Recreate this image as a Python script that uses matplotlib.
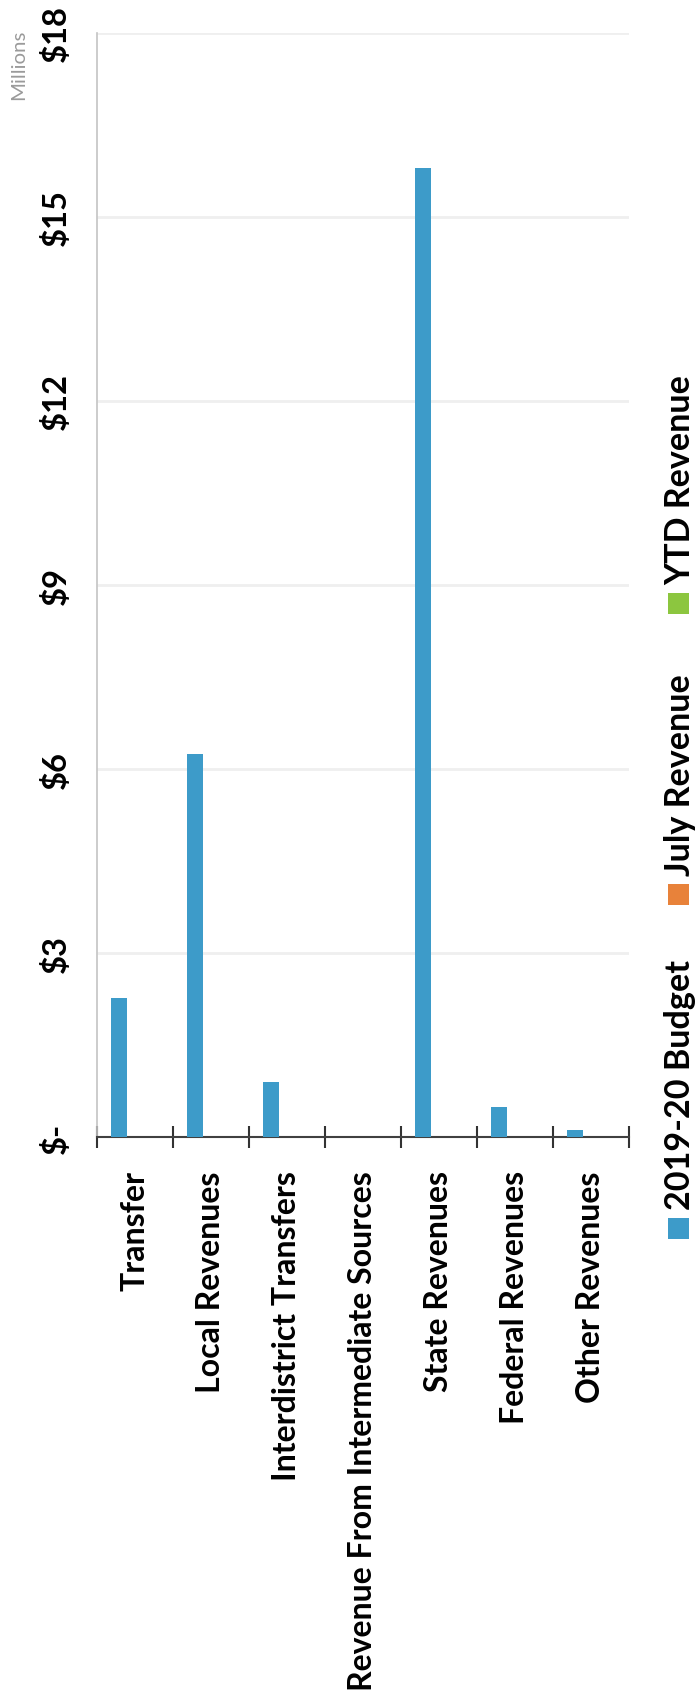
import numpy as np
import matplotlib
matplotlib.use("Agg")
import matplotlib.pyplot as plt
from matplotlib.patches import Rectangle

# revenue by source, in millions of dollars
categories = ['Transfer', 'Local Revenues', 'Interdistrict Transfers',
              'Revenue From Intermediate Sources', 'State Revenues',
              'Federal Revenues', 'Other Revenues']
budget = [2.27, 6.24, 0.90, 0.0, 15.8, 0.49, 0.11]
july = [0, 0, 0, 0, 0, 0, 0]
ytd = [0, 0, 0, 0, 0, 0, 0]
series_names = ['2019-20 Budget', 'July Revenue', 'YTD Revenue']
series_colors = ['#3d9bc9', '#e8823a', '#8cc63f']
yticks = [0, 3, 6, 9, 12, 15, 18]
ytick_labels = ['$-', '$3', '$6', '$9', '$12', '$15', '$18']

W, H = 697, 1706
plt.rcParams['font.family'] = ['Lato', 'DejaVu Sans']


def fx(x):
    return x / W


def fy(y):
    return 1 - y / H


def fit(texts, target, renderer):
    # scale a group of texts so the longest one spans `target` pixels
    longest = max(t.get_window_extent(renderer).height for t in texts)
    for t in texts:
        t.set_fontsize(t.get_fontsize() * target / longest)


fig = plt.figure(figsize=(W / 100, H / 100), dpi=100)
ax = fig.add_axes([fx(97), fy(1138), (629 - 97) / W, (1138 - 34) / H])

x = np.arange(len(categories))
bw = 0.21
for i, (vals, name, col) in enumerate(zip([budget, july, ytd], series_names, series_colors)):
    ax.bar(x + (i - 1) * bw, vals, width=bw, color=col, label=name, zorder=3)

ax.set_xlim(-0.5, len(categories) - 0.5)
ax.set_ylim(0, 18)

# value axis
ax.set_yticks(yticks)
ax.set_yticklabels(ytick_labels, fontsize=26, fontweight='bold', rotation=90)
for lab in ax.get_yticklabels():
    lab.set_va('center')
    lab.set_ha('right')
ax.tick_params(axis='y', length=0, pad=19)
ax.grid(axis='y', color='#efefef', linewidth=2, zorder=0)

# category axis: ticks between groups, labels under group centres
ax.set_xticks(np.arange(len(categories) + 1) - 0.5)
ax.set_xticklabels([])
ax.tick_params(axis='x', which='major', direction='inout', length=16,
               width=1.5, color='#333333')
ax.set_xticks(x, minor=True)
ax.set_xticklabels(categories, minor=True, rotation=90, fontsize=22,
                   fontweight='bold', ha='center', va='top')
ax.tick_params(axis='x', which='minor', length=0, pad=24)

for s in ['top', 'right']:
    ax.spines[s].set_visible(False)
ax.spines['bottom'].set_color('#404040')
ax.spines['bottom'].set_linewidth(1.5)
ax.spines['left'].set_color('#c4c4c4')
ax.spines['left'].set_linewidth(1.2)

millions = fig.text(fx(19), fy(65), 'Millions', rotation=90, ha='center',
                    va='center', fontsize=12, color='#9a9a9a')

# legend, drawn upright along the right edge
entry_bottoms = [1240, 906, 615]
sq = 21
legend_texts = []
for name, col, yb in zip(series_names, series_colors, entry_bottoms):
    fig.patches.append(Rectangle((fx(668), fy(yb)), sq / W, sq / H,
                                 transform=fig.transFigure, facecolor=col,
                                 edgecolor='none'))
    legend_texts.append(fig.text(fx(680), fy(yb - sq - 9), name, rotation=90,
                                 ha='center', va='bottom', fontsize=24,
                                 fontweight='bold'))

r = fig.canvas.get_renderer()
fit(ax.get_xticklabels(minor=True), 520, r)
fit(ax.get_yticklabels(), 57, r)
fit(legend_texts, 250, r)
fit([millions], 70, r)

fig.savefig('out.png', dpi=100)
